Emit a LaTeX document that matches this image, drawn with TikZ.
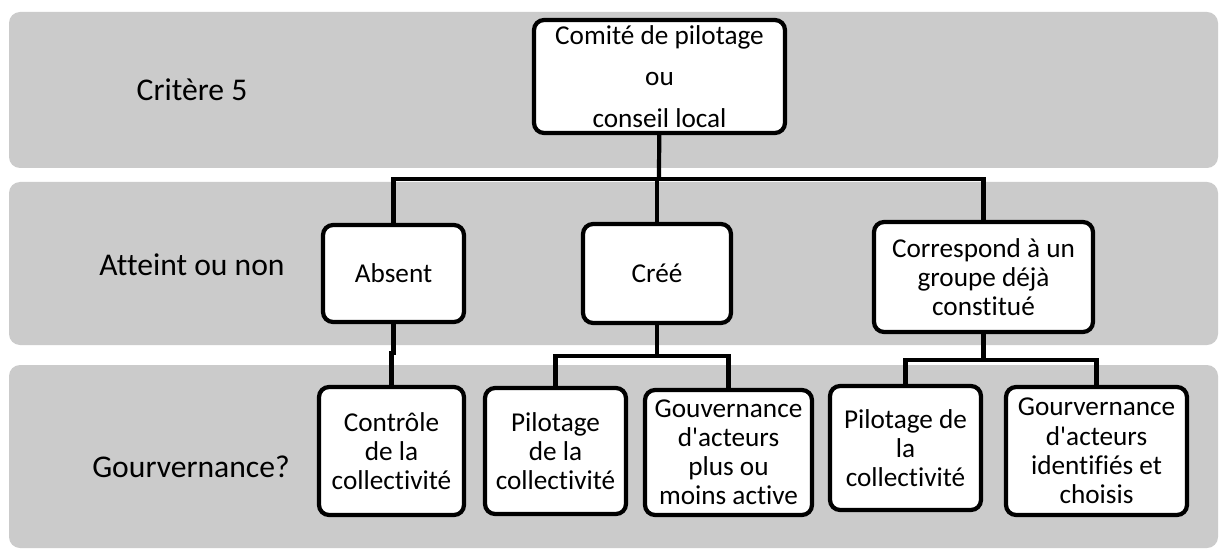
\documentclass[tikz,border=0pt]{standalone}
\usepackage{fontspec}
\setmainfont{Carlito}[Ligatures={TeXOff,NoCommon}]
\definecolor{bandgray}{RGB}{203,203,203}

\begin{document}
\begin{tikzpicture}[x=0.02cm,y=-0.02cm,
    band/.style={fill=bandgray,rounded corners=0.22cm},
    box/.style={draw,fill=white,line width=2.4pt,rounded corners=0.2cm,
      align=center,inner sep=0pt,font=\fontsize{15.5}{16.6}\selectfont},
    rowlabel/.style={font=\fontsize{18}{21}\selectfont},
    link/.style={line width=2.4pt}]
  \useasboundingbox (0,0) rectangle (1219,557);
  \fill[band] (9,12) rectangle (1218,168);
  \fill[band] (9,182) rectangle (1218,345);
  \fill[band] (9,365) rectangle (1218,548);

  \node[rowlabel] (crit) at (192,90) {Critère 5};
  \node[rowlabel] (atteint) at (192,265) {Atteint ou non};
  \node[rowlabel] (gouvq) at (191,467) {Gourvernance?};

  \node[box,minimum width=5.02cm,minimum height=2.26cm] (comite) at (659.5,76.5)
    {Comité de pilotage\\[7pt]ou\\[7pt]conseil local};
  \node[box,minimum width=2.82cm,minimum height=1.94cm] (absent) at (393.5,273.5) {Absent};
  \node[box,minimum width=2.96cm,minimum height=1.98cm] (cree) at (657,273.5) {Créé};
  \node[box,minimum width=4.38cm,minimum height=2.2cm] (corresp) at (983.5,277)
    {Correspond à un\\groupe déjà\\constitué};
  \node[box,minimum width=2.9cm,minimum height=2.56cm] (controle) at (391.5,451)
    {Contrôle\\de la\\collectivité};
  \node[box,minimum width=2.82cm,minimum height=2.52cm] (pilotA) at (555.5,451)
    {Pilotage\\de la\\collectivité};
  \node[box,minimum width=3.34cm,minimum height=2.5cm] (gouvA) at (728.5,452.5)
    {Gouvernance\\d'acteurs\\plus ou\\moins active};
  \node[box,minimum width=3.02cm,minimum height=2.48cm] (pilotB) at (905.5,448)
    {Pilotage de\\la\\collectivité};
  \node[box,minimum width=3.62cm,minimum height=2.56cm] (gouvB) at (1096.5,451)
    {Gourvernance\\d'acteurs\\identifiés et\\choisis};

  \coordinate (busa) at (659,179);
  \coordinate (busb) at (657,356);
  \coordinate (busc) at (983.5,360);
  \coordinate (kink) at (393.5,353);
  \draw[link] (comite) -- (busa);
  \draw[link] (absent) |- (busa) -| (corresp);
  \draw[link] (cree) -- (cree |- busa);
  \draw[link] (absent) -- (kink) -| (controle);
  \draw[link] (cree) -- (busb);
  \draw[link] (pilotA) |- (busb) -| (gouvA);
  \draw[link] (corresp) -- (busc);
  \draw[link] (pilotB) |- (busc) -| (gouvB);
\end{tikzpicture}
\end{document}
